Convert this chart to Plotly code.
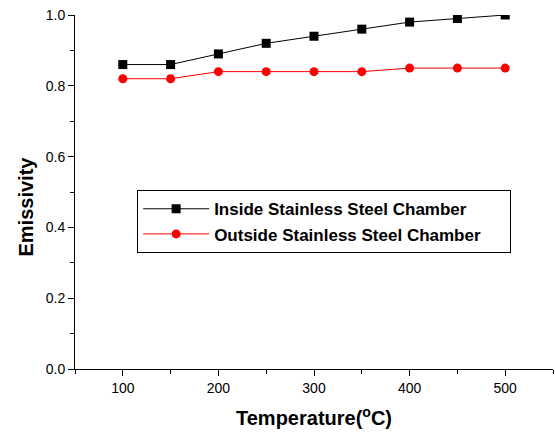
import plotly.graph_objects as go

temperature = [100, 150, 200, 250, 300, 350, 400, 450, 500]
inside = [0.86, 0.86, 0.89, 0.92, 0.94, 0.96, 0.98, 0.99, 1.00]
outside = [0.82, 0.82, 0.84, 0.84, 0.84, 0.84, 0.85, 0.85, 0.85]

FONT = "Liberation Sans, Arial, sans-serif"
PAD = "&nbsp;" * 5

fig = go.Figure()
fig.add_trace(go.Scatter(
    x=temperature, y=inside, mode="lines+markers",
    name="<b>Inside Stainless Steel Chamber</b>" + PAD,
    line=dict(color="black", width=1),
    marker=dict(symbol="square", size=9, color="black"),
))
fig.add_trace(go.Scatter(
    x=temperature, y=outside, mode="lines+markers",
    name="<b>Outside Stainless Steel Chamber</b>" + PAD,
    line=dict(color="red", width=1),
    marker=dict(symbol="circle", size=9, color="red"),
))

axis_common = dict(
    showgrid=False, zeroline=False, showline=True, linecolor="black", linewidth=1,
    ticks="outside", ticklen=6, tickwidth=1, tickcolor="black",
    tickfont=dict(family=FONT, size=14, color="black"),
)
fig.update_xaxes(
    range=[50, 550], tickvals=[100, 200, 300, 400, 500],
    minor=dict(tickvals=[50, 150, 250, 350, 450, 550], ticks="outside", ticklen=4, tickcolor="black"),
    title=dict(text="<b>Temperature(<sup>o</sup>C)</b>", font=dict(family=FONT, size=20, color="black"), standoff=16),
    **axis_common,
)
fig.update_yaxes(
    range=[0, 1.0], tickvals=[0, 0.2, 0.4, 0.6, 0.8, 1.0], tickformat=".1f",
    minor=dict(tickvals=[0.1, 0.3, 0.5, 0.7, 0.9], ticks="outside", ticklen=4, tickcolor="black"),
    **axis_common,
)
fig.add_annotation(
    text="<b>Emissivity</b>", xref="paper", yref="paper", x=-0.1025, y=0.459,
    xanchor="center", yanchor="middle", textangle=-90, showarrow=False,
    font=dict(family=FONT, size=20, color="black"),
)
fig.update_layout(
    width=555, height=434,
    margin=dict(l=75, r=2, t=15, b=65),
    plot_bgcolor="white", paper_bgcolor="white",
    legend=dict(
        x=0.13, y=0.505, xanchor="left", yanchor="top",
        bordercolor="black", borderwidth=1, bgcolor="white",
        font=dict(family=FONT, size=17, color="black"),
        itemwidth=66, tracegroupgap=0,
    ),
)
fig.write_html("out.html")
